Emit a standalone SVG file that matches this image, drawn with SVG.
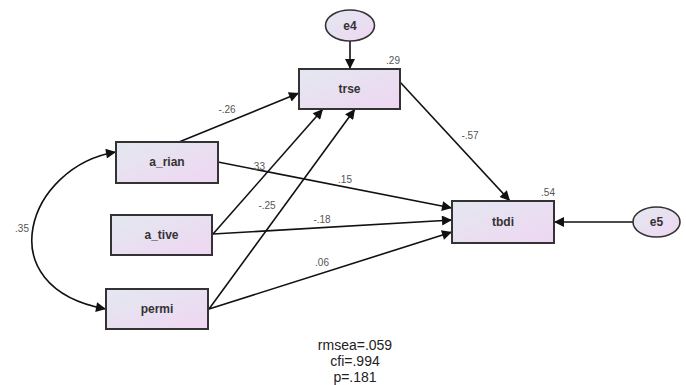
<svg xmlns="http://www.w3.org/2000/svg" width="686" height="385" viewBox="0 0 686 385">
<defs>
<linearGradient id="g" x1="0" y1="0" x2="1" y2="1">
<stop offset="0" stop-color="#e3e8f0"/>
<stop offset="1" stop-color="#efd6f2"/>
</linearGradient>
<marker id="a" viewBox="0 0 10 10" refX="10" refY="5" markerWidth="16" markerHeight="10" markerUnits="userSpaceOnUse" orient="auto-start-reverse">
<path d="M0,0 L10,5 L0,10 z" fill="#111"/>
</marker>
<style>
.box{fill:url(#g);stroke:#333;stroke-width:2}
.ell{fill:url(#g);stroke:#333;stroke-width:1.6}
.nt{font-family:"Liberation Sans",Arial,sans-serif;font-size:12px;font-weight:bold;fill:#333;text-anchor:middle}
.lb{font-family:"Liberation Sans",Arial,sans-serif;font-size:10px;fill:#555;text-anchor:middle}
.fit{font-family:"Liberation Sans",Arial,sans-serif;font-size:14px;fill:#222;text-anchor:middle}
.c{fill:none;stroke:#111;stroke-width:1.6;marker-end:url(#a)}
</style>
</defs>
<rect width="686" height="385" fill="#fff"/>
<g id="connectors">
<path class="c" d="M350,41 L350,69"/>
<path class="c" d="M179,142 L299,93"/>
<path class="c" d="M213,234 L323,109"/>
<path class="c" d="M209,309 L355,109"/>
<path class="c" d="M218,162 L452,208"/>
<path class="c" d="M213,234 L452,220"/>
<path class="c" d="M209,309 L452,232"/>
<path class="c" d="M400,82 L510,201"/>
<path class="c" d="M633,222 L554,222"/>
<path class="c" d="M116,152 C28,166 -14,287 106,309" style="marker-start:url(#a)"/>
</g>
<g id="labels">
<text class="lb" x="227" y="113">-.26</text>
<text class="lb" x="258" y="170">.33</text>
<text class="lb" x="345" y="183">.15</text>
<text class="lb" x="267" y="209">-.25</text>
<text class="lb" x="322" y="223">-.18</text>
<text class="lb" x="322" y="266">.06</text>
<text class="lb" x="22" y="232">.35</text>
<text class="lb" x="470" y="139">-.57</text>
<text class="lb" x="393" y="64">.29</text>
<text class="lb" x="548" y="196">.54</text>
</g>
<g id="e4"><ellipse class="ell" cx="350" cy="25.5" rx="24.5" ry="15.5"/><text class="nt" x="350" y="30">e4</text></g>
<g id="trse"><rect class="box" x="299" y="69" width="101" height="40"/><text class="nt" x="349.5" y="93">trse</text></g>
<g id="a_rian"><rect class="box" x="116" y="142" width="102" height="41"/><text class="nt" x="167" y="166">a_rian</text></g>
<g id="a_tive"><rect class="box" x="111" y="215" width="101" height="40"/><text class="nt" x="161.5" y="239">a_tive</text></g>
<g id="permi"><rect class="box" x="106" y="289" width="102" height="40"/><text class="nt" x="157" y="313">permi</text></g>
<g id="tbdi"><rect class="box" x="452" y="201" width="102" height="42"/><text class="nt" x="503" y="226">tbdi</text></g>
<g id="e5"><ellipse class="ell" cx="656.5" cy="222" rx="23.5" ry="15"/><text class="nt" x="656.5" y="226">e5</text></g>
<g id="fit">
<text class="fit" x="355" y="350">rmsea=.059</text>
<text class="fit" x="355" y="366">cfi=.994</text>
<text class="fit" x="355" y="382">p=.181</text>
</g>
</svg>
